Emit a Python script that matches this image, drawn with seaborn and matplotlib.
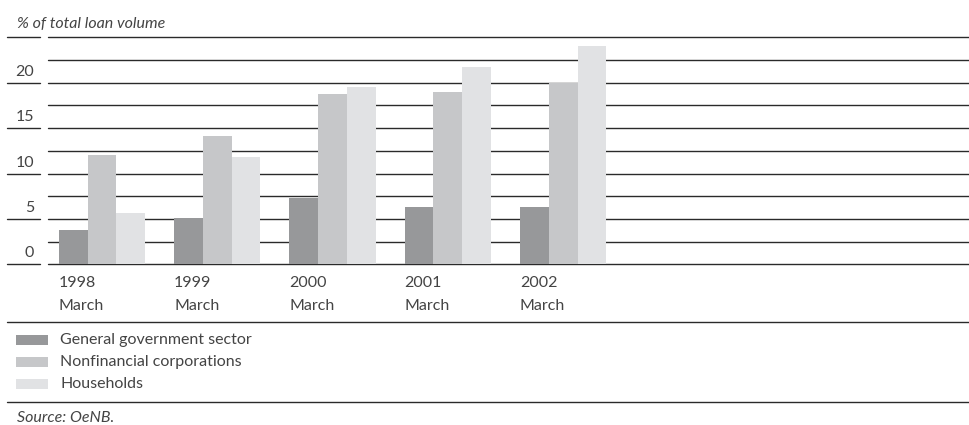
import numpy as np
import pandas as pd
import seaborn as sns
import matplotlib.pyplot as plt
from matplotlib.patches import Rectangle
from matplotlib.lines import Line2D
from matplotlib.transforms import blended_transform_factory

# Loan shares by borrowing sector (% of total loan volume), end of March
years = ["1998", "1999", "2000", "2001", "2002"]
month = "March"
sectors = ["General government sector", "Nonfinancial corporations", "Households"]
government = [3.8, 5.1, 7.3, 6.3, 6.3]
corporations = [12.0, 14.1, 18.8, 19.0, 20.0]
households = [5.7, 11.8, 19.5, 21.7, 24.0]
y_labels = [0, 5, 10, 15, 20]
colors = ["#97989a", "#c6c7c9", "#e1e2e4"]

df = pd.DataFrame({
    "year": years * 3,
    "sector": np.repeat(sectors, len(years)),
    "value": government + corporations + households,
})

sns.set_theme(style="white")
plt.rcParams["font.family"] = ["Lato", "DejaVu Sans"]
TEXT = "#444444"
LINE = "#2a2a2a"
FS = 11.5

W, H = 969, 425
fig = plt.figure(figsize=(W / 100, H / 100), dpi=100)

def fx(px):
    return px / W

def fy(py):
    return 1 - py / H

ax_left, ax_right, ax_top, ax_bottom = 48, 969, 37.3, 264.3
ax = fig.add_axes([fx(ax_left), fy(ax_bottom), fx(ax_right - ax_left), (ax_bottom - ax_top) / H])

sns.barplot(data=df, x="year", y="value", hue="sector", palette=colors,
            width=0.75, saturation=1, legend=False, ax=ax, linewidth=0)

ax.set_xlim(-0.468, 7.52)
ax.set_ylim(0, 25)
ax.set_yticks(np.arange(0, 25.01, 2.5))
ax.grid(axis="y", color=LINE, linewidth=1.0)
ax.grid(axis="x", visible=False)
ax.set_axisbelow(True)
for gl in ax.get_ygridlines():
    gl.set_clip_on(False)
for s in ax.spines.values():
    s.set_visible(False)
ax.tick_params(left=False, bottom=False, labelleft=False, labelbottom=False)
ax.set_xlabel("")
ax.set_ylabel("")

# short rule segments and value labels to the left of the plot
ytrans = ax.get_yaxis_transform()
span = ax_right - ax_left
for v in y_labels + [25]:
    ax.add_line(Line2D([(7 - ax_left) / span, (40 - ax_left) / span], [v, v],
                       transform=ytrans, clip_on=False, color=LINE, linewidth=1.0))
for v in y_labels:
    ax.text((34 - ax_left) / span, v + 0.75, str(v), transform=ytrans,
            ha="right", va="baseline", fontsize=FS, color=TEXT)

# category labels, left aligned with each group
xtrans = blended_transform_factory(ax.transData, fig.transFigure)
for i, yr in enumerate(years):
    ax.text(i - 0.375, fy(283), yr, transform=xtrans, ha="left", va="center",
            fontsize=FS, color=TEXT)
    ax.text(i - 0.375, fy(306), month, transform=xtrans, ha="left", va="center",
            fontsize=FS, color=TEXT)

fig.text(fx(17), fy(24), "% of total loan volume", style="italic",
         ha="left", va="center", fontsize=FS, color=TEXT)

# horizontal rules framing the legend
for py in (322, 402):
    fig.add_artist(Line2D([fx(7), fx(969)], [fy(py), fy(py)], color=LINE, linewidth=1.0))

# legend
for k, (name, col) in enumerate(zip(sectors, colors)):
    cy = 340 + 22 * k
    fig.add_artist(Rectangle((fx(16), fy(cy + 5)), fx(32), 10 / H,
                             facecolor=col, edgecolor="none", transform=fig.transFigure))
    fig.text(fx(60), fy(cy), name, ha="left", va="center", fontsize=FS, color=TEXT)

fig.text(fx(17), fy(418), "Source: OeNB.", style="italic", ha="left", va="center",
         fontsize=FS, color=TEXT)

fig.savefig("out.png", dpi=100)
